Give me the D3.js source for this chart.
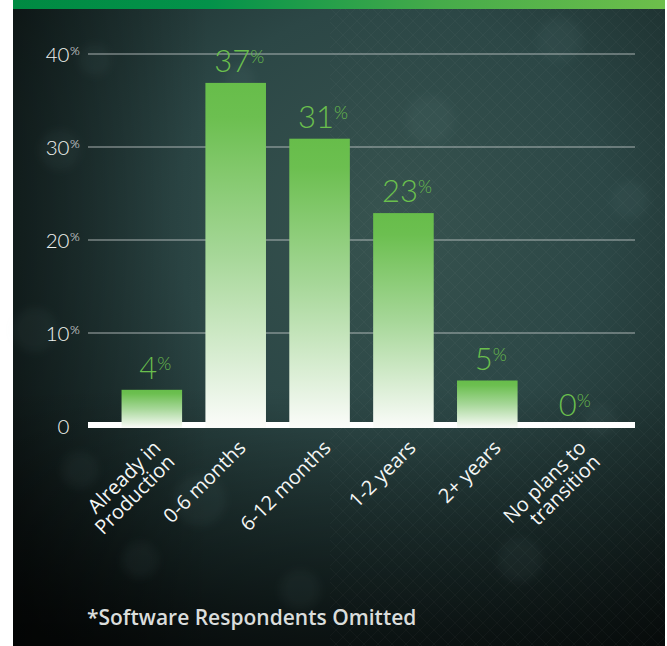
<!DOCTYPE html>
<html>
<head>
<meta charset="utf-8">
<script src="https://cdn.jsdelivr.net/npm/d3@7"></script>
<style>
  html, body { margin: 0; padding: 0; background: #ffffff; }
  svg { display: block; }
</style>
</head>
<body>
<div id="chart"></div>
<script>
// Survey answers: expected time until moving to production
const categories = ["Already in\nProduction", "0-6 months", "6-12 months", "1-2 years", "2+ years", "No plans to\ntransition"];
const values = [4, 37, 31, 23, 5, 0];
const yTicks = [0, 10, 20, 30, 40];
const footnote = "*Software Respondents Omitted";

const W = 667, H = 646;
const panel = { x0: 13, x1: 665 };

const svg = d3.select("#chart").append("svg")
  .attr("width", W).attr("height", H);

const defs = svg.append("defs");

// background glow
const bg = defs.append("radialGradient").attr("id", "bgGlow")
  .attr("gradientUnits", "userSpaceOnUse")
  .attr("cx", 390).attr("cy", 220).attr("r", 540);
bg.append("stop").attr("offset", 0).attr("stop-color", "#37534f");
bg.append("stop").attr("offset", 0.4).attr("stop-color", "#2c4746");
bg.append("stop").attr("offset", 0.72).attr("stop-color", "#1b2d2c");
bg.append("stop").attr("offset", 1).attr("stop-color", "#0c1211");

const leftShade = defs.append("linearGradient").attr("id", "leftShade")
  .attr("x1", 0).attr("x2", 1).attr("y1", 0).attr("y2", 0);
leftShade.append("stop").attr("offset", 0).attr("stop-color", "#000").attr("stop-opacity", 0.4);
leftShade.append("stop").attr("offset", 0.3).attr("stop-color", "#000").attr("stop-opacity", 0);

const bottomShade = defs.append("linearGradient").attr("id", "bottomShade")
  .attr("x1", 0).attr("x2", 0).attr("y1", 0).attr("y2", 1);
bottomShade.append("stop").attr("offset", 0.6).attr("stop-color", "#000").attr("stop-opacity", 0);
bottomShade.append("stop").attr("offset", 1).attr("stop-color", "#000").attr("stop-opacity", 0.55);

// top brand stripe
const stripe = defs.append("linearGradient").attr("id", "stripe")
  .attr("x1", 0).attr("x2", 1).attr("y1", 0).attr("y2", 0);
stripe.append("stop").attr("offset", 0).attr("stop-color", "#008a42");
stripe.append("stop").attr("offset", 0.3).attr("stop-color", "#03924a");
stripe.append("stop").attr("offset", 0.65).attr("stop-color", "#45ab4a");
stripe.append("stop").attr("offset", 1).attr("stop-color", "#6dbf4b");

// bar fill: green top fading to white
const barGrad = defs.append("linearGradient").attr("id", "barGrad")
  .attr("x1", 0).attr("x2", 0).attr("y1", 0).attr("y2", 1);
barGrad.append("stop").attr("offset", 0).attr("stop-color", "#67bd4a");
barGrad.append("stop").attr("offset", 0.1).attr("stop-color", "#6cbf50");
barGrad.append("stop").attr("offset", 0.5).attr("stop-color", "#a6d798");
barGrad.append("stop").attr("offset", 1).attr("stop-color", "#fbfcfa");

// soft blur for bokeh spots
defs.append("filter").attr("id", "soft")
  .attr("x", "-50%").attr("y", "-50%").attr("width", "200%").attr("height", "200%")
  .append("feGaussianBlur").attr("stdDeviation", 4);

// faint crosshatch texture
const hatch = defs.append("pattern").attr("id", "hatch")
  .attr("patternUnits", "userSpaceOnUse").attr("width", 14).attr("height", 14);
hatch.append("path").attr("d", "M0,0 L14,14 M14,0 L0,14")
  .attr("stroke", "#ffffff").attr("stroke-width", 0.6).attr("stroke-opacity", 0.05);

// panel background
const pw = panel.x1 - panel.x0;
svg.append("rect").attr("x", panel.x0).attr("y", 0).attr("width", pw).attr("height", H)
  .attr("fill", "url(#bgGlow)");
svg.append("rect").attr("x", panel.x0).attr("y", 0).attr("width", pw).attr("height", H)
  .attr("fill", "url(#leftShade)");
svg.append("rect").attr("x", panel.x0).attr("y", 0).attr("width", pw).attr("height", H)
  .attr("fill", "url(#bottomShade)");
svg.append("rect").attr("x", 330).attr("y", 0).attr("width", panel.x1 - 330).attr("height", H)
  .attr("fill", "url(#hatch)");

// bokeh spots
const spots = [[60, 150, 20], [95, 60, 16], [35, 330, 22], [200, 500, 26], [140, 560, 18],
               [560, 40, 22], [630, 200, 18], [430, 120, 24], [300, 590, 20], [600, 420, 16],
               [240, 80, 14], [520, 560, 22], [80, 470, 18]];
svg.append("g").attr("filter", "url(#soft)")
  .selectAll("circle").data(spots).join("circle")
  .attr("cx", d => d[0]).attr("cy", d => d[1]).attr("r", d => d[2])
  .attr("fill", "#9fc2bb").attr("fill-opacity", 0.05);

svg.append("rect").attr("x", panel.x0).attr("y", 0).attr("width", pw).attr("height", 9)
  .attr("fill", "url(#stripe)");

// scales
const x = d3.scaleBand().domain(categories).range([88, 635])
  .paddingInner(0.278).paddingOuter(0.4);
const y = d3.scaleLinear().domain([0, 40]).range([427, 55]);

const plotX0 = 88, plotX1 = 635;

// gridlines
svg.append("g").selectAll("line").data(yTicks.filter(t => t > 0)).join("line")
  .attr("x1", plotX0).attr("x2", plotX1)
  .attr("y1", d => y(d) - 1).attr("y2", d => y(d) - 1)
  .attr("stroke", "#c9d0ce").attr("stroke-width", 1.2).attr("stroke-opacity", 0.8);

// tick labels
const tickG = svg.append("g").attr("font-family", "Lato, 'Open Sans', sans-serif")
  .attr("font-weight", 300).attr("fill", "#eef1ef");
tickG.selectAll("text.num").data(yTicks).join("text").attr("class", "num")
  .attr("x", 69.5).attr("y", d => y(d) + 6.5)
  .attr("text-anchor", "end").attr("font-size", 20.5)
  .text(d => d);
tickG.selectAll("text.pct").data(yTicks.filter(t => t > 0)).join("text").attr("class", "pct")
  .attr("x", 70).attr("y", d => y(d))
  .attr("font-size", 12.5)
  .text("%");

// baseline
svg.append("rect").attr("x", plotX0).attr("y", y(0) - 5)
  .attr("width", plotX1 - plotX0).attr("height", 6).attr("fill", "#ffffff");

// bars
svg.append("g").selectAll("rect").data(values.map((v, i) => ({ c: categories[i], v })))
  .join("rect")
  .attr("x", d => x(d.c)).attr("width", x.bandwidth())
  .attr("y", d => y(d.v)).attr("height", d => d.v > 0 ? y(0) + 1 - y(d.v) : 0)
  .attr("fill", "url(#barGrad)");

// value labels
const valG = svg.append("g").attr("font-family", "Lato, 'Open Sans', sans-serif")
  .attr("font-weight", 300).attr("fill", "#6abf4d");
values.forEach((v, i) => {
  const t = valG.append("text")
    .attr("x", x(categories[i]) + x.bandwidth() / 2 + 3.5)
    .attr("y", y(v) - 11)
    .attr("text-anchor", "middle");
  t.append("tspan").attr("font-size", 31).text(v);
  t.append("tspan").attr("font-size", 18).attr("dy", -9).text("%");
});

// category labels, rotated
const catG = svg.append("g").attr("font-family", "'Open Sans', sans-serif")
  .attr("font-size", 20).attr("fill", "#f4f6f5");
categories.forEach((c, i) => {
  const lines = c.split("\n");
  const t = catG.append("text")
    .attr("text-anchor", "end")
    .attr("transform", `translate(${x(c) + x.bandwidth() / 2 + 10 + i * 1.2},449) rotate(-45)`);
  lines.forEach((ln, j) => {
    t.append("tspan").attr("x", 0).attr("dy", j === 0 ? 0 : "1.0em").text(ln);
  });
});

// footnote
svg.append("text").attr("x", 87).attr("y", 625)
  .attr("font-family", "'Open Sans', sans-serif").attr("font-weight", 600)
  .attr("font-size", 21).attr("fill", "#dadddc")
  .text(footnote);
</script>
</body>
</html>
